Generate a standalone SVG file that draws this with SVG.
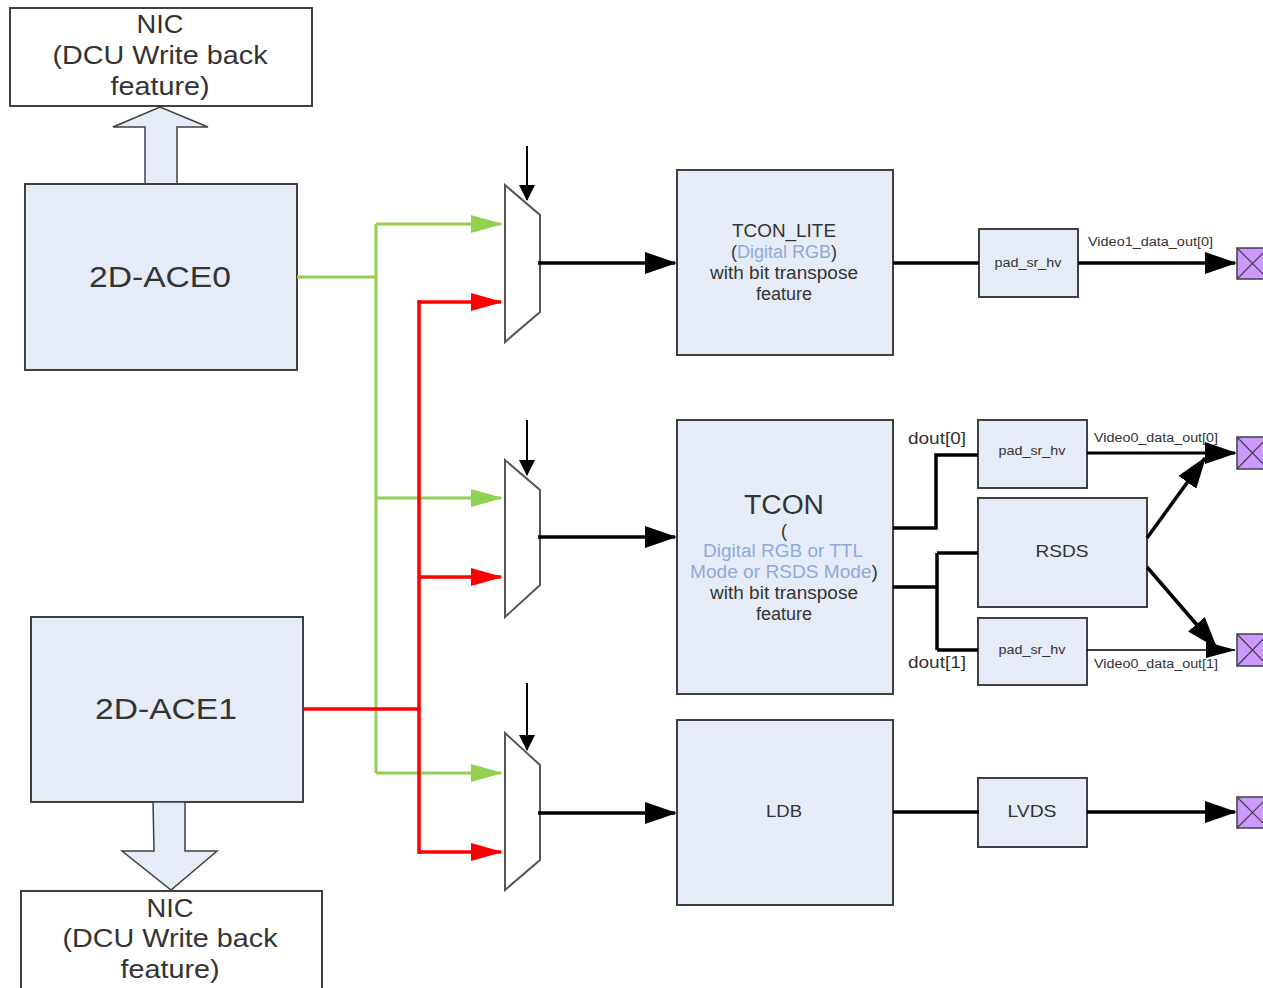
<svg xmlns="http://www.w3.org/2000/svg" width="1263" height="988" viewBox="0 0 1263 988">
<defs>
<marker id="ahG" markerUnits="userSpaceOnUse" markerWidth="32" markerHeight="18" refX="30" refY="9" orient="auto"><path d="M0,0 L32,9 L0,18 z" fill="#92d050"/></marker>
<marker id="ahR" markerUnits="userSpaceOnUse" markerWidth="32" markerHeight="18" refX="30" refY="9" orient="auto"><path d="M0,0 L32,9 L0,18 z" fill="#ff0000"/></marker>
<marker id="ahK" markerUnits="userSpaceOnUse" markerWidth="32" markerHeight="22" refX="30" refY="11" orient="auto"><path d="M0,0 L32,11 L0,22 z" fill="#000"/></marker>
<marker id="ahS" markerUnits="userSpaceOnUse" markerWidth="30" markerHeight="16" refX="29" refY="8" orient="auto"><path d="M0,0 L30,8 L0,16 z" fill="#000"/></marker>
<marker id="ahC" markerUnits="userSpaceOnUse" markerWidth="16" markerHeight="16" refX="15" refY="8" orient="auto"><path d="M0,0 L16,8 L0,16 z" fill="#000"/></marker>
</defs>
<style>
.box{fill:#e6ecf7;stroke:#404040;stroke-width:2}
.nic{fill:#fff;stroke:#404040;stroke-width:2}
.barrow{fill:#e6ecf7;stroke:#404040;stroke-width:1.5}
.t{font-family:"Liberation Sans",Arial,sans-serif;fill:#333;text-anchor:middle}
.tl{font-family:"Liberation Sans",Arial,sans-serif;fill:#333}
.blue{fill:#8eaadb}
.g{stroke:#92d050;stroke-width:3;fill:none}
.r{stroke:#ff0000;stroke-width:3.5;fill:none}
.k{stroke:#000;stroke-width:3.5;fill:none}
.kt{stroke:#000;stroke-width:1.5;fill:none}
.c{stroke:#000;stroke-width:2;fill:none}
.mux{fill:#fff;stroke:#555;stroke-width:2}
.pad{fill:#cc99ff;stroke:#404040;stroke-width:1.5}
.padx{stroke:#404040;stroke-width:1.2}
</style>

<g id="nic_top">
<rect class="nic" x="10" y="8" width="302" height="98"/>
<text class="t" x="160" y="33" font-size="26" textLength="47" lengthAdjust="spacingAndGlyphs">NIC</text>
<text class="t" x="160" y="64" font-size="26" textLength="215" lengthAdjust="spacingAndGlyphs">(DCU Write back</text>
<text class="t" x="160" y="95" font-size="26" textLength="99" lengthAdjust="spacingAndGlyphs">feature)</text>
</g>
<g id="arrow_up">
<polygon class="barrow" points="145,184 145,127 113,127 160,107 208,127 177,127 177,184"/>
</g>
<g id="ace0">
<rect class="box" x="25" y="184" width="272" height="186"/>
<text class="t" x="160" y="287" font-size="30" textLength="142" lengthAdjust="spacingAndGlyphs">2D-ACE0</text>
</g>
<g id="ace1">
<rect class="box" x="31" y="617" width="272" height="185"/>
<text class="t" x="166" y="719" font-size="30" textLength="142" lengthAdjust="spacingAndGlyphs">2D-ACE1</text>
</g>
<g id="arrow_down">
<polygon class="barrow" points="153,802 185,802 185,851 217,851 171,890 122,851 154,851"/>
</g>
<g id="nic_bottom">
<rect class="nic" x="21" y="891" width="301" height="110"/>
<text class="t" x="170" y="917" font-size="26" textLength="47" lengthAdjust="spacingAndGlyphs">NIC</text>
<text class="t" x="170" y="947" font-size="26" textLength="215" lengthAdjust="spacingAndGlyphs">(DCU Write back</text>
<text class="t" x="170" y="978" font-size="26" textLength="99" lengthAdjust="spacingAndGlyphs">feature)</text>
</g>

<g id="mux1"><polygon class="mux" points="505,185 540,215 540,312 505,342"/></g>
<g id="mux2"><polygon class="mux" points="505,460 540,490 540,585 505,617"/></g>
<g id="mux3"><polygon class="mux" points="505,733 540,765 540,860 505,890"/></g>

<g id="tcon_lite">
<rect class="box" x="677" y="170" width="216" height="185"/>
<text class="t" x="784" y="237" font-size="18" textLength="104" lengthAdjust="spacingAndGlyphs">TCON_LITE</text>
<text class="t" x="784" y="258" font-size="18">(<tspan class="blue">Digital RGB</tspan>)</text>
<text class="t" x="784" y="279" font-size="18" textLength="148" lengthAdjust="spacingAndGlyphs">with bit transpose</text>
<text class="t" x="784" y="300" font-size="18">feature</text>
</g>
<g id="tcon">
<rect class="box" x="677" y="420" width="216" height="274"/>
<text class="t" x="784" y="514" font-size="27" textLength="80" lengthAdjust="spacingAndGlyphs">TCON</text>
<text class="t" x="784" y="537" font-size="18">(</text>
<text class="t blue" x="783" y="557" font-size="18" textLength="160" lengthAdjust="spacingAndGlyphs">Digital RGB or TTL</text>
<text class="t" x="784" y="578" font-size="18" textLength="188" lengthAdjust="spacingAndGlyphs"><tspan class="blue">Mode or RSDS Mode</tspan>)</text>
<text class="t" x="784" y="599" font-size="18" textLength="148" lengthAdjust="spacingAndGlyphs">with bit transpose</text>
<text class="t" x="784" y="620" font-size="18">feature</text>
</g>
<g id="ldb">
<rect class="box" x="677" y="720" width="216" height="185"/>
<text class="t" x="784" y="817" font-size="17" textLength="36" lengthAdjust="spacingAndGlyphs">LDB</text>
</g>

<g id="pad1">
<rect class="box" x="979" y="229" width="99" height="68"/>
<text class="t" x="1028" y="267" font-size="12" textLength="67" lengthAdjust="spacingAndGlyphs">pad_sr_hv</text>
</g>
<g id="pad2">
<rect class="box" x="978" y="420" width="109" height="68"/>
<text class="t" x="1032" y="455" font-size="12" textLength="67" lengthAdjust="spacingAndGlyphs">pad_sr_hv</text>
</g>
<g id="rsds">
<rect class="box" x="978" y="498" width="169" height="109"/>
<text class="t" x="1062" y="557" font-size="17" textLength="53" lengthAdjust="spacingAndGlyphs">RSDS</text>
</g>
<g id="pad3">
<rect class="box" x="978" y="618" width="109" height="67"/>
<text class="t" x="1032" y="654" font-size="12" textLength="67" lengthAdjust="spacingAndGlyphs">pad_sr_hv</text>
</g>
<g id="lvds">
<rect class="box" x="978" y="778" width="109" height="69"/>
<text class="t" x="1032" y="817" font-size="17" textLength="49" lengthAdjust="spacingAndGlyphs">LVDS</text>
</g>

<g id="out_pad1"><rect class="pad" x="1237" y="248" width="31" height="31"/><path class="padx" d="M1237,248 L1268,279 M1268,248 L1237,279"/></g>
<g id="out_pad2"><rect class="pad" x="1237" y="437" width="31" height="32"/><path class="padx" d="M1237,437 L1268,469 M1268,437 L1237,469"/></g>
<g id="out_pad3"><rect class="pad" x="1237" y="634" width="31" height="32"/><path class="padx" d="M1237,634 L1268,666 M1268,634 L1237,666"/></g>
<g id="out_pad4"><rect class="pad" x="1237" y="797" width="31" height="31"/><path class="padx" d="M1237,797 L1268,828 M1268,797 L1237,828"/></g>

<g id="connectors">
<path class="g" d="M297,277 H376 M376,224 V773"/>
<path class="g" d="M376,224 H501" marker-end="url(#ahG)"/>
<path class="g" d="M376,498 H501" marker-end="url(#ahG)"/>
<path class="g" d="M376,773 H501" marker-end="url(#ahG)"/>
<path class="r" d="M303,709 H419 M419,300 V854"/>
<path class="r" d="M419,302 H501" marker-end="url(#ahR)"/>
<path class="r" d="M419,577 H501" marker-end="url(#ahR)"/>
<path class="r" d="M419,852 H501" marker-end="url(#ahR)"/>
<path class="c" d="M527,146 V200" marker-end="url(#ahC)"/>
<path class="c" d="M527,420 V475" marker-end="url(#ahC)"/>
<path class="c" d="M527,683 V750" marker-end="url(#ahC)"/>
<path class="k" d="M538,263 H675" marker-end="url(#ahK)"/>
<path class="k" d="M538,537 H675" marker-end="url(#ahK)"/>
<path class="k" d="M538,813 H675" marker-end="url(#ahK)"/>
<path class="k" d="M893,263 H979"/>
<path class="k" d="M1078,263 H1235" marker-end="url(#ahK)"/>
<path class="k" d="M893,528 H936 V455 H978"/>
<path class="k" d="M893,587 H937 M937,553 V650 M937,553 H978 M937,650 H978"/>
<path class="k" style="stroke-width:3" d="M1087,453 H1235" marker-end="url(#ahK)"/>
<path class="kt" d="M1087,650 H1235" marker-end="url(#ahS)"/>
<path class="k" d="M1147,538 L1205,458" marker-end="url(#ahK)"/>
<path class="k" d="M1147,567 L1216,647" marker-end="url(#ahK)"/>
<path class="k" d="M893,812 H979"/>
<path class="k" d="M1087,812 H1235" marker-end="url(#ahK)"/>
<text class="tl" x="1088" y="246" font-size="12" textLength="125" lengthAdjust="spacingAndGlyphs">Video1_data_out[0]</text>
<text class="tl" x="1094" y="442" font-size="12" textLength="124" lengthAdjust="spacingAndGlyphs">Video0_data_out[0]</text>
<text class="tl" x="1094" y="668" font-size="12" textLength="124" lengthAdjust="spacingAndGlyphs">Video0_data_out[1]</text>
<text class="tl" x="908" y="444" font-size="16" textLength="58" lengthAdjust="spacingAndGlyphs">dout[0]</text>
<text class="tl" x="908" y="668" font-size="16" textLength="58" lengthAdjust="spacingAndGlyphs">dout[1]</text>
</g>
</svg>
